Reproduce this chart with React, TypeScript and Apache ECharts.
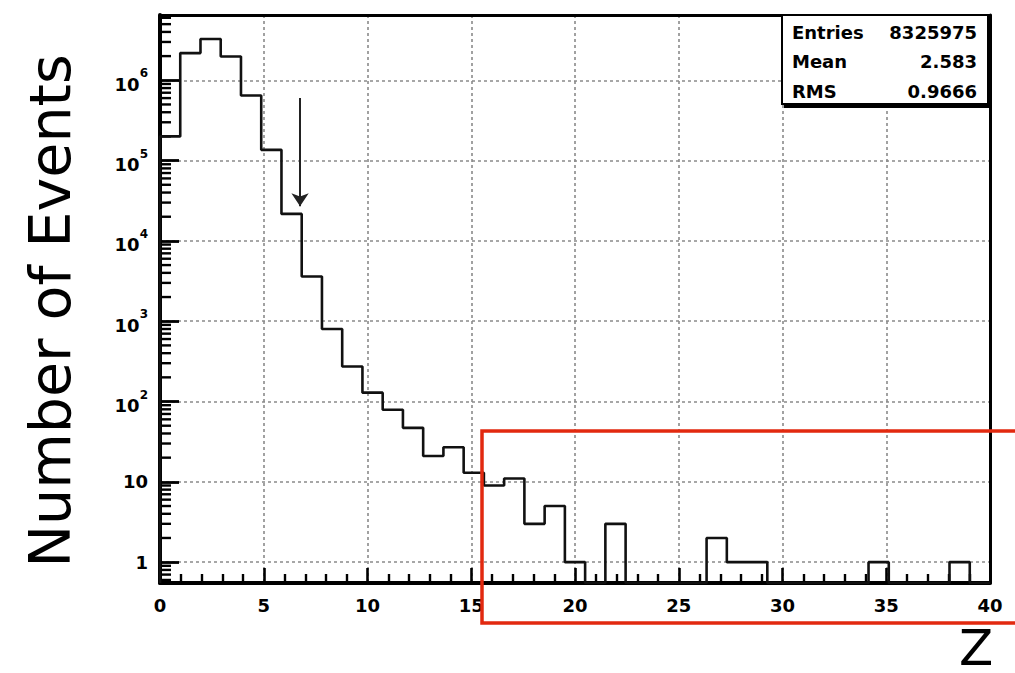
import React, { useEffect, useRef } from "react";
import * as echarts from "echarts";

// ---- data ----
const X_MIN = 0;
const X_MAX = 40;
const N_BINS = 41;
const BIN_COUNTS = [
  200000, 2180000, 3260000, 1980000, 647000, 136000, 21700, 3600, 800, 273,
  129, 79, 47, 21, 27, 13, 9, 11, 3, 5,
  1, 0, 3, 0, 0, 0, 0, 2, 1, 1,
  0, 0, 0, 0, 0, 1, 0, 0, 0, 1,
  0,
];
const Y_MIN = 0.55;
const Y_MAX = 6.5e6;
const X_TICK_STEP = 5;
const Y_DECADES = [0, 1, 2, 3, 4, 5, 6];
const STATS_LABELS = ["Entries", "Mean", "RMS"];
const STATS_VALUES = ["8325975", "2.583", "0.9666"];
const ARROW_X = 6.75;
const ARROW_FROM = 6.0e5;
const ARROW_TO = 2.7e4;
const Y_TITLE = "Number of Events";
const X_TITLE = "Z";

const FONT = "DejaVu Sans";

export default function App() {
  const ref = useRef<HTMLDivElement>(null);

  useEffect(() => {
    if (!ref.current) return;
    const chart = echarts.init(ref.current, null, { renderer: "svg" });

    const binW = (X_MAX - X_MIN) / N_BINS;
    const floorV = (v: number) => (v > 0 ? v : Y_MIN);
    const stepData: number[][] = [[X_MIN, Y_MIN]];
    BIN_COUNTS.forEach((c, i) => stepData.push([X_MIN + i * binW, floorV(c)]));
    stepData.push([X_MAX, floorV(BIN_COUNTS[N_BINS - 1])]);
    stepData.push([X_MAX, Y_MIN]);

    const yMinor: number[][] = [];
    for (let d = -1; d <= 6; d++) {
      for (let m = 2; m <= 9; m++) {
        const v = m * Math.pow(10, d);
        if (v > Y_MIN && v < Y_MAX) yMinor.push([X_MIN, v]);
      }
    }

    const gridLine = () => ({ show: true, lineStyle: { color: "#8a8a8a", width: 1.6, type: [3, 3] as any } });
    const frameLine = (w: number) => ({ show: true, onZero: false, lineStyle: { color: "#000", width: w } });

    const option: any = {
      animation: false,
      backgroundColor: "#fff",
      grid: { left: 160, right: 25, top: 15, bottom: 90, outerBoundsMode: "none" },
      xAxis: [
        {
          type: "value",
          min: X_MIN,
          max: X_MAX,
          interval: X_TICK_STEP,
          axisLine: frameLine(4),
          axisTick: { show: true, inside: true, length: 15, lineStyle: { color: "#000", width: 2.6 } },
          minorTick: { show: true, splitNumber: 5, length: 9, lineStyle: { color: "#000", width: 2.4 } },
          axisLabel: { fontSize: 18, fontWeight: "bold", fontFamily: FONT, color: "#000", margin: 13 },
          splitLine: gridLine(),
          name: X_TITLE,
          nameLocation: "end",
          nameGap: 0,
          nameTextStyle: {
            fontSize: 50,
            fontFamily: FONT,
            color: "#000",
            align: "center",
            verticalAlign: "top",
            padding: [40, 28, 0, 0],
          },
        },
        {
          type: "value",
          position: "top",
          min: X_MIN,
          max: X_MAX,
          interval: X_TICK_STEP,
          axisLine: frameLine(3),
          axisTick: { show: false },
          axisLabel: { show: false },
          splitLine: { show: false },
        },
      ],
      yAxis: [
        {
          type: "log",
          logBase: 10,
          min: Y_MIN,
          max: Y_MAX,
          splitNumber: 7,
          axisLine: frameLine(4),
          axisTick: { show: true, inside: true, length: 19, lineStyle: { color: "#000", width: 2.8 } },
          axisLabel: {
            margin: 12,
            formatter: (v: number) => {
              const e = Math.log10(v);
              const k = Math.round(e);
              if (Math.abs(e - k) > 1e-6 || Y_DECADES.indexOf(k) < 0) return "";
              if (k === 0) return "{b|1}";
              if (k === 1) return "{b|10}";
              return "{b|10}{s|" + k + "}";
            },
            rich: {
              b: { fontSize: 18, fontWeight: "bold", fontFamily: FONT, color: "#000", verticalAlign: "bottom" },
              s: { fontSize: 12, fontWeight: "bold", fontFamily: FONT, color: "#000", padding: [0, 0, 14, 0] },
            },
          },
          splitLine: gridLine(),
          name: Y_TITLE,
          nameLocation: "middle",
          nameRotate: 90,
          nameGap: 82,
          nameTextStyle: { fontSize: 57, fontFamily: FONT, color: "#000", padding: [0, 24, 0, 0] },
        },
        {
          type: "log",
          position: "right",
          logBase: 10,
          min: Y_MIN,
          max: Y_MAX,
          axisLine: frameLine(3),
          axisTick: { show: false },
          axisLabel: { show: false },
          splitLine: { show: false },
        },
      ],
      series: [
        {
          type: "line",
          data: stepData,
          step: "end",
          showSymbol: false,
          lineStyle: { color: "#111", width: 2.6 },
          markLine: {
            silent: true,
            symbol: ["none", "arrow"],
            symbolSize: 13,
            label: { show: false },
            lineStyle: { color: "#222", width: 2, type: "solid" },
            data: [[{ coord: [ARROW_X, ARROW_FROM] }, { coord: [ARROW_X, ARROW_TO] }]],
          },
        },
        {
          type: "custom",
          coordinateSystem: "cartesian2d",
          data: yMinor,
          encode: { x: 0, y: 1 },
          renderItem: (params: any, api: any) => {
            const p = api.coord([api.value(0), api.value(1)]);
            return {
              type: "line",
              shape: { x1: p[0], y1: p[1], x2: p[0] + 11, y2: p[1] },
              style: { stroke: "#000", lineWidth: 2.4 },
            };
          },
        },
      ],
      graphic: [
        {
          type: "rect",
          z: 100,
          shape: { x: 784, y: 17, width: 207, height: 91 },
          style: { fill: "#000" },
        },
        {
          type: "rect",
          z: 101,
          shape: { x: 782, y: 15, width: 206, height: 89 },
          style: { fill: "#fff", stroke: "#000", lineWidth: 2 },
        },
        ...STATS_LABELS.map((t, i) => ({
          type: "text",
          z: 102,
          x: 792,
          y: 32 + i * 29.5,
          style: {
            text: t,
            fontSize: 18,
            fontWeight: "bold",
            fontFamily: FONT,
            fill: "#000",
            textAlign: "left",
            textVerticalAlign: "middle",
          },
        })),
        ...STATS_VALUES.map((t, i) => ({
          type: "text",
          z: 102,
          x: 977,
          y: 32 + i * 29.5,
          style: {
            text: t,
            fontSize: 18,
            fontWeight: "bold",
            fontFamily: FONT,
            fill: "#000",
            textAlign: "right",
            textVerticalAlign: "middle",
          },
        })),
        {
          type: "rect",
          z: 110,
          shape: { x: 482, y: 431, width: 560, height: 192 },
          style: { fill: "none", stroke: "#e2290f", lineWidth: 3.5 },
        },
      ],
    };

    chart.setOption(option);
    return () => chart.dispose();
  }, []);

  return (
    <div
      ref={ref}
      style={{ position: "absolute", left: 0, top: 0, width: 1015, height: 673, background: "#fff" }}
    />
  );
}
